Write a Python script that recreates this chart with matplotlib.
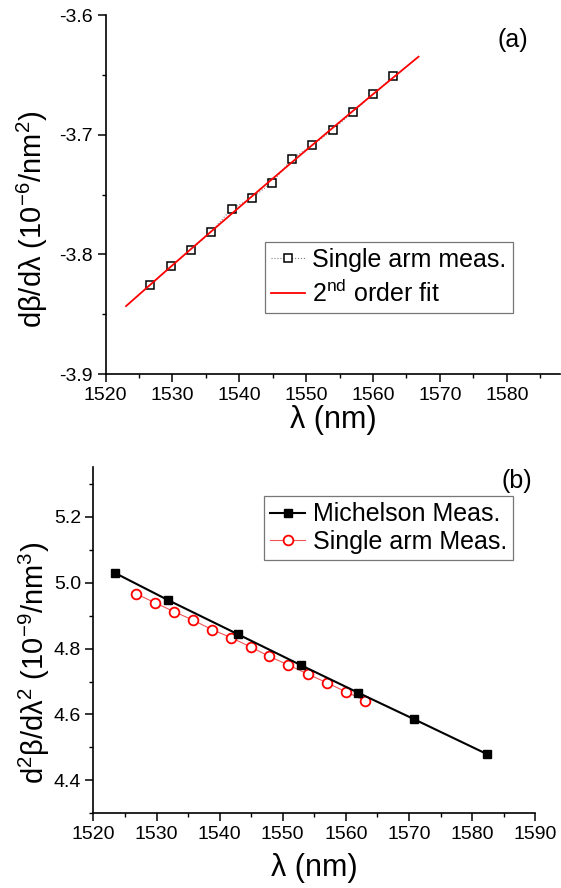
import numpy as np
import matplotlib.pyplot as plt
from matplotlib.ticker import MultipleLocator

plt.rcParams['font.family'] = ['Liberation Sans', 'DejaVu Sans']
plt.rcParams['mathtext.fontset'] = 'custom'
plt.rcParams['mathtext.rm'] = 'Liberation Sans'
plt.rcParams['mathtext.it'] = 'Liberation Sans:italic'
plt.rcParams['mathtext.bf'] = 'Liberation Sans:bold'

# single arm measurement wavelengths (nm)
wl_single = [1526.7, 1529.75, 1532.8, 1535.8, 1538.85, 1541.85, 1544.9,
             1547.9, 1550.9, 1553.95, 1557.0, 1560.0, 1563.05]
# first derivative of beta, 10^-6 / nm^2
dbeta = [-3.826, -3.810, -3.796, -3.781, -3.762, -3.753, -3.740,
         -3.720, -3.709, -3.696, -3.681, -3.666, -3.651]
fit_range = [1523.06, 1566.8]

# second derivative, 10^-9 / nm^3
wl_mich = [1523.36, 1531.84, 1542.94, 1552.84, 1561.95, 1570.77, 1582.44]
d2beta_mich = [5.030, 4.947, 4.843, 4.750, 4.666, 4.586, 4.479]
d2beta_single = [4.967, 4.939, 4.912, 4.886, 4.857, 4.833, 4.805,
                 4.776, 4.750, 4.723, 4.696, 4.669, 4.642]

fig = plt.figure(figsize=(5.61, 8.88), dpi=100)

def style(ax):
    for s in ['top', 'right']:
        ax.spines[s].set_visible(False)
    for s in ['left', 'bottom']:
        ax.spines[s].set_linewidth(1.2)
    ax.tick_params(which='major', direction='out', length=5.5, width=1.1, labelsize=14)
    ax.tick_params(which='minor', direction='out', length=3, width=1.0)

# (a)
ax1 = fig.add_axes([0.1882, 0.5788, 0.8105, 0.4043])
coef = np.polyfit(wl_single, dbeta, 2)
xf = np.linspace(fit_range[0], fit_range[1], 200)
ax1.plot(wl_single, dbeta, ls=':', color='gray', lw=0.8, marker='s', ms=6,
         mfc='white', mec='black', mew=1.1, label='Single arm meas.', zorder=2)
ax1.plot(xf, np.polyval(coef, xf), color='red', lw=1.3,
         label='2$^{\\mathregular{nd}}$ order fit', zorder=3)
ax1.set_xlim(1520, 1588)
ax1.set_ylim(-3.9, -3.6)
ax1.xaxis.set_major_locator(MultipleLocator(10))
ax1.xaxis.set_minor_locator(MultipleLocator(5))
ax1.set_yticks([-3.9, -3.8, -3.7, -3.6])
ax1.set_yticklabels(['-3.9', '-3.8', '-3.7', '-3.6'])
ax1.yaxis.set_minor_locator(MultipleLocator(0.05))
style(ax1)
ax1.set_xlabel('λ (nm)', fontsize=22, labelpad=1)
ax1.set_ylabel('dβ/dλ (10$^{\\mathregular{-6}}$/nm$^{\\mathregular{2}}$)', fontsize=21)
ax1.yaxis.set_label_coords(-0.122, 0.432)
ax1.text(0.929, 0.91, '(a)', transform=ax1.transAxes, fontsize=18, ha='right')
leg1 = ax1.legend(loc='lower right', bbox_to_anchor=(0.896, 0.17), fontsize=18,
                  handlelength=1.35, handletextpad=0.3, borderpad=0.25,
                  labelspacing=0.3, fancybox=False, edgecolor='#555555',
                  borderaxespad=0)
leg1.get_frame().set_linewidth(0.9)

# (b)
ax2 = fig.add_axes([0.1665, 0.0841, 0.7875, 0.3896])
ax2.plot(wl_mich, d2beta_mich, color='black', lw=1.5, marker='s', ms=5.5,
         label='Michelson Meas.', zorder=3)
ax2.plot(wl_single, d2beta_single, color='#ee5555', lw=0.8, marker='o', ms=7,
         mfc='white', mec='red', mew=1.3, label='Single arm Meas.', zorder=2)
ax2.set_xlim(1520, 1590)
ax2.set_ylim(4.3, 5.35)
ax2.xaxis.set_major_locator(MultipleLocator(10))
ax2.xaxis.set_minor_locator(MultipleLocator(5))
ax2.yaxis.set_minor_locator(MultipleLocator(0.1))
ax2.set_yticks([4.4, 4.6, 4.8, 5.0, 5.2])
ax2.set_yticklabels(['4.4', '4.6', '4.8', '5.0', '5.2'])
style(ax2)
ax2.set_xlabel('λ (nm)', fontsize=22, labelpad=7)
ax2.set_ylabel('d$^{\\mathregular{2}}$β/dλ$^{\\mathregular{2}}$ (10$^{\\mathregular{-9}}$/nm$^{\\mathregular{3}}$)',
               fontsize=21)
ax2.yaxis.set_label_coords(-0.094, 0.434)
ax2.text(0.993, 0.94, '(b)', transform=ax2.transAxes, fontsize=18, ha='right')
leg2 = ax2.legend(loc='upper right', bbox_to_anchor=(0.95, 0.917), fontsize=18,
                  handlelength=1.4, handletextpad=0.3, borderpad=0.25,
                  labelspacing=0.15, fancybox=False, edgecolor='#555555',
                  borderaxespad=0)
leg2.get_frame().set_linewidth(0.9)

fig.savefig('out.png', dpi=100)
